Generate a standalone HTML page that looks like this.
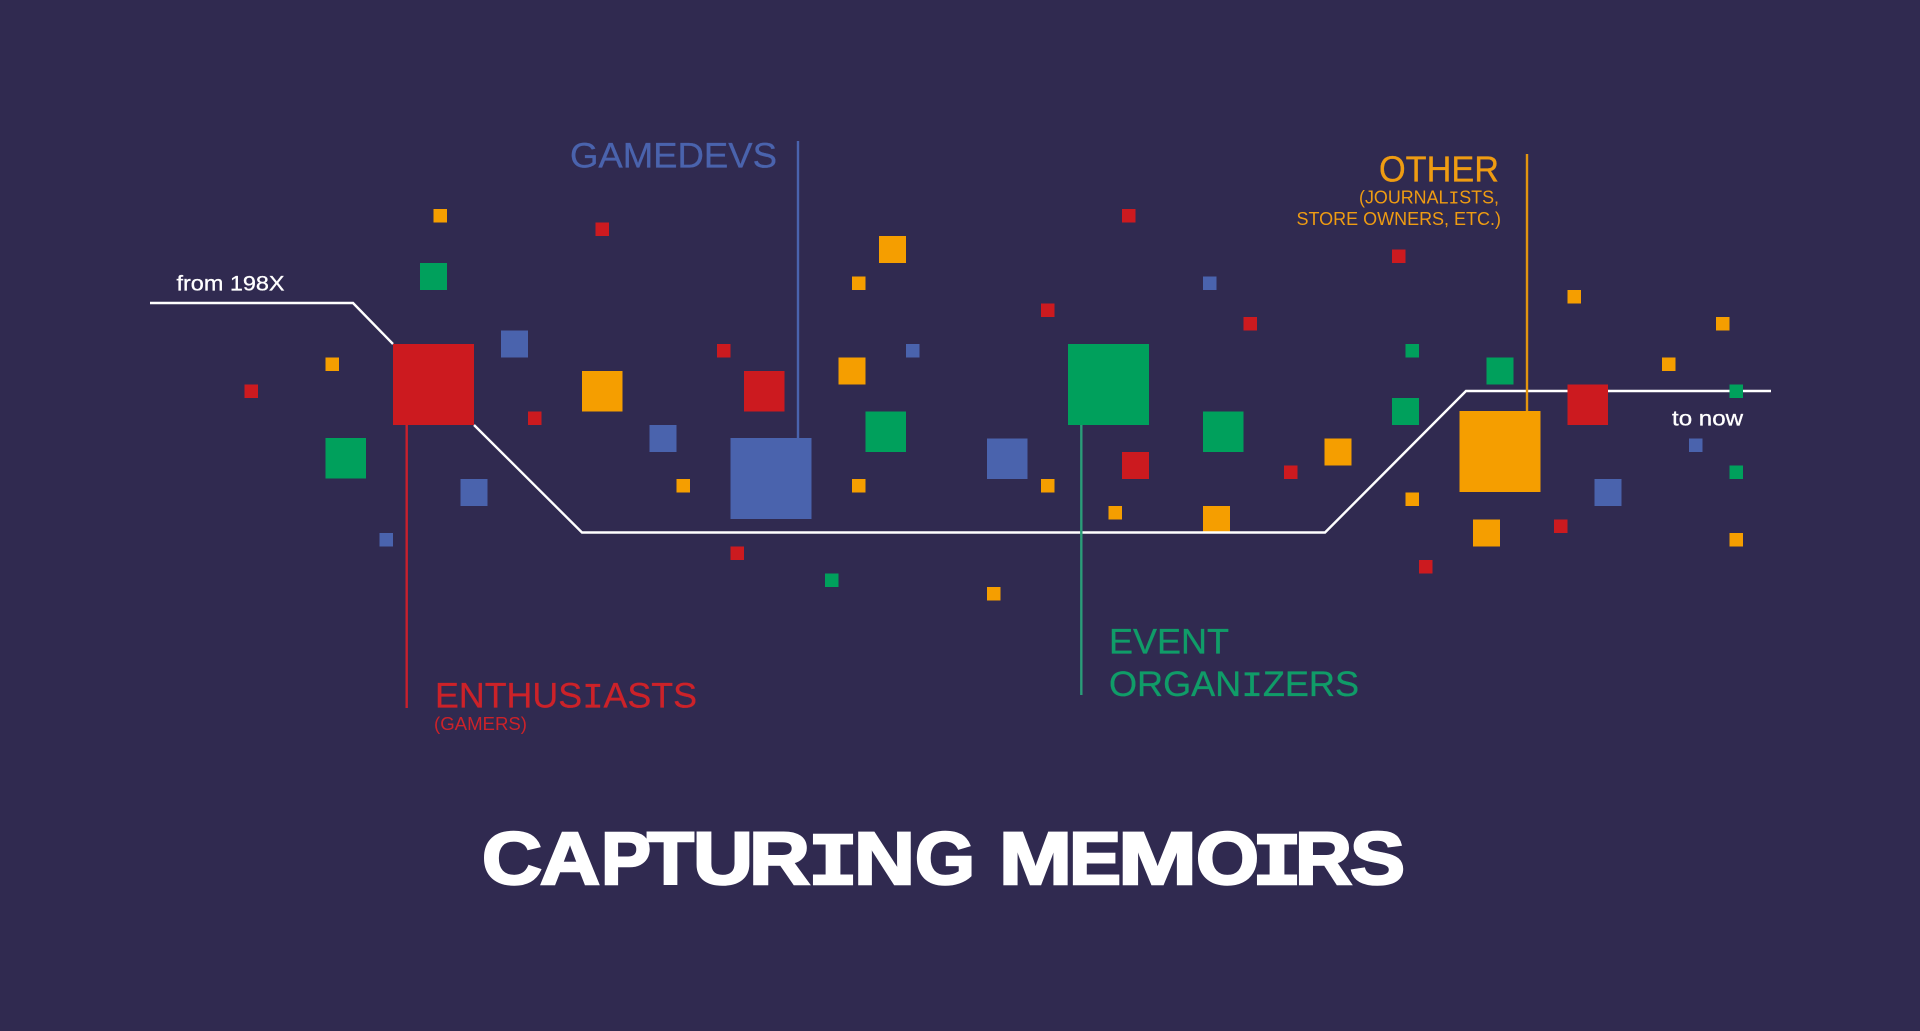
<!DOCTYPE html>
<html>
<head>
<meta charset="utf-8">
<style>
html,body{margin:0;padding:0;background:#302a50;width:1920px;height:1031px;overflow:hidden}
svg{display:block}
text{font-family:"Liberation Sans",sans-serif}
tspan.m{font-family:"Liberation Mono",monospace}
.r{fill:#cc1a1f}.b{fill:#4a63ad}.g{fill:#00a05c}.o{fill:#f59e00}
</style>
</head>
<body>
<svg width="1920" height="1031" viewBox="0 0 1920 1031" xmlns="http://www.w3.org/2000/svg">
<rect width="1920" height="1031" fill="#302a50"/>
<rect class="o" x="1203" y="506" width="27" height="27"/>
<polyline points="150,303 353,303 393,344" fill="none" stroke="#fff" stroke-width="2.4"/>
<polyline points="474,425 582,532.5 1325,532.5 1466,391 1771,391" fill="none" stroke="#fff" stroke-width="2.4"/>

<!-- huge -->
<rect class="r" x="393" y="344" width="81" height="81"/>
<rect class="b" x="730.5" y="438" width="81" height="81"/>
<rect class="g" x="1068" y="344" width="81" height="81"/>
<rect class="o" x="1459.5" y="411" width="81" height="81"/>

<!-- 40 -->
<rect class="g" x="325.5" y="438" width="40.5" height="40.5"/>
<rect class="o" x="582" y="371" width="40.5" height="40.5"/>
<rect class="r" x="744" y="371" width="40.5" height="40.5"/>
<rect class="g" x="865.5" y="411.5" width="40.5" height="40.5"/>
<rect class="b" x="987" y="438.5" width="40.5" height="40.5"/>
<rect class="g" x="1203" y="411.5" width="40.5" height="40.5"/>
<rect class="r" x="1567.5" y="384.5" width="40.5" height="40.5"/>

<!-- 27 -->
<rect class="g" x="420" y="263" width="27" height="27"/>
<rect class="b" x="501" y="330.5" width="27" height="27"/>
<rect class="b" x="649.5" y="425" width="27" height="27"/>
<rect class="b" x="460.5" y="479" width="27" height="27"/>
<rect class="o" x="879" y="236" width="27" height="27"/>
<rect class="o" x="838.5" y="357.5" width="27" height="27"/>
<rect class="r" x="1122" y="452" width="27" height="27"/>
<rect class="g" x="1486.5" y="357.5" width="27" height="27"/>
<rect class="g" x="1392" y="398" width="27" height="27"/>
<rect class="o" x="1324.5" y="438.5" width="27" height="27"/>
<rect class="b" x="1594.5" y="479" width="27" height="27"/>
<rect class="o" x="1473" y="519.5" width="27" height="27"/>

<!-- small -->
<rect class="o" x="433.5" y="209" width="13.5" height="13.5"/>
<rect class="r" x="595.5" y="222.5" width="13.5" height="13.5"/>
<rect class="o" x="325.5" y="357.5" width="13.5" height="13.5"/>
<rect class="r" x="244.5" y="384.5" width="13.5" height="13.5"/>
<rect class="r" x="528" y="411.5" width="13.5" height="13.5"/>
<rect class="o" x="676.5" y="479" width="13.5" height="13.5"/>
<rect class="b" x="379.5" y="533" width="13.5" height="13.5"/>
<rect class="r" x="717" y="344" width="13.5" height="13.5"/>
<rect class="o" x="852" y="276.5" width="13.5" height="13.5"/>
<rect class="r" x="1122" y="209" width="13.5" height="13.5"/>
<rect class="b" x="1203" y="276.5" width="13.5" height="13.5"/>
<rect class="r" x="1041" y="303.5" width="13.5" height="13.5"/>
<rect class="r" x="1243.5" y="317" width="13.5" height="13.5"/>
<rect class="b" x="906" y="344" width="13.5" height="13.5"/>
<rect class="o" x="852" y="479" width="13.5" height="13.5"/>
<rect class="o" x="1041" y="479" width="13.5" height="13.5"/>
<rect class="r" x="1284" y="465.5" width="13.5" height="13.5"/>
<rect class="o" x="1108.5" y="506" width="13.5" height="13.5"/>
<rect class="r" x="730.5" y="546.5" width="13.5" height="13.5"/>
<rect class="g" x="825" y="573.5" width="13.5" height="13.5"/>
<rect class="o" x="987" y="587" width="13.5" height="13.5"/>
<rect class="r" x="1392" y="249.5" width="13.5" height="13.5"/>
<rect class="o" x="1567.5" y="290" width="13.5" height="13.5"/>
<rect class="o" x="1716" y="317" width="13.5" height="13.5"/>
<rect class="o" x="1662" y="357.5" width="13.5" height="13.5"/>
<rect class="g" x="1405.5" y="344" width="13.5" height="13.5"/>
<rect class="g" x="1729.5" y="384.5" width="13.5" height="13.5"/>
<rect class="b" x="1689" y="438.5" width="13.5" height="13.5"/>
<rect class="g" x="1729.5" y="465.5" width="13.5" height="13.5"/>
<rect class="o" x="1405.5" y="492.5" width="13.5" height="13.5"/>
<rect class="r" x="1554" y="519.5" width="13.5" height="13.5"/>
<rect class="r" x="1419" y="560" width="13.5" height="13.5"/>
<rect class="o" x="1729.5" y="533" width="13.5" height="13.5"/>

<!-- callout lines -->
<line x1="406.7" y1="425" x2="406.7" y2="708" stroke="#c8202c" stroke-width="2.4"/>
<line x1="798" y1="141" x2="798" y2="438" stroke="#4a63ad" stroke-width="2.4"/>
<line x1="1081.3" y1="425" x2="1081.3" y2="695" stroke="#2a9d78" stroke-width="2.4"/>
<line x1="1527" y1="154" x2="1527" y2="411" stroke="#e3950f" stroke-width="2.4"/>

<!-- labels -->
<text x="176.5" y="290.5" font-size="21" fill="#fff" stroke="#fff" stroke-width=".3" textLength="108" lengthAdjust="spacingAndGlyphs">from 198X</text>
<text x="1672" y="425.5" font-size="21" fill="#fff" stroke="#fff" stroke-width=".3" textLength="71" lengthAdjust="spacingAndGlyphs">to now</text>

<text x="570" y="167.5" font-size="35.5" fill="#4a63ad" stroke="#4a63ad" stroke-width=".3" textLength="207" lengthAdjust="spacingAndGlyphs">GAMEDEVS</text>
<text x="1379" y="181.5" font-size="36" fill="#ef9c12" stroke="#ef9c12" stroke-width=".3" textLength="120" lengthAdjust="spacingAndGlyphs">OTHER</text>
<text x="1359" y="203.5" font-size="18.5" fill="#ef9c12" textLength="140" lengthAdjust="spacingAndGlyphs">(JOURNAL<tspan class="m">I</tspan>STS,</text>
<text x="1296.5" y="225" font-size="18.5" fill="#ef9c12" textLength="204.5" lengthAdjust="spacingAndGlyphs">STORE OWNERS, ETC.)</text>
<text x="435" y="707.5" font-size="35" fill="#cc2229" stroke="#cc2229" stroke-width=".3" textLength="262" lengthAdjust="spacingAndGlyphs">ENTHUS<tspan class="m">I</tspan>ASTS</text>
<text x="434" y="730" font-size="18" fill="#cc2229" textLength="93" lengthAdjust="spacingAndGlyphs">(GAMERS)</text>
<text x="1109" y="653.5" font-size="35.5" fill="#109c68" stroke="#109c68" stroke-width=".3" textLength="120" lengthAdjust="spacingAndGlyphs">EVENT</text>
<text x="1109" y="696" font-size="35.5" fill="#109c68" stroke="#109c68" stroke-width=".3" textLength="250" lengthAdjust="spacingAndGlyphs">ORGAN<tspan class="m">I</tspan>ZERS</text>

<g fill="#fff" stroke="#fff" stroke-width="2.5" font-weight="700" font-size="74">
<text x="482" y="884" textLength="60" lengthAdjust="spacingAndGlyphs">C</text>
<text x="540" y="884" textLength="60" lengthAdjust="spacingAndGlyphs">A</text>
<text x="601" y="884" textLength="50" lengthAdjust="spacingAndGlyphs">P</text>
<text x="647" y="884" textLength="47" lengthAdjust="spacingAndGlyphs">T</text>
<text x="693" y="884" textLength="60" lengthAdjust="spacingAndGlyphs">U</text>
<text x="749" y="884" textLength="61" lengthAdjust="spacingAndGlyphs">R</text>
<text x="808" y="884" textLength="50" lengthAdjust="spacingAndGlyphs" style="font-family:'Liberation Mono',monospace">I</text>
<text x="854" y="884" textLength="61" lengthAdjust="spacingAndGlyphs">N</text>
<text x="915" y="884" textLength="60" lengthAdjust="spacingAndGlyphs">G</text>
<text x="999" y="884" textLength="73" lengthAdjust="spacingAndGlyphs">M</text>
<text x="1069" y="884" textLength="52" lengthAdjust="spacingAndGlyphs">E</text>
<text x="1118" y="884" textLength="79" lengthAdjust="spacingAndGlyphs">M</text>
<text x="1196" y="884" textLength="63" lengthAdjust="spacingAndGlyphs">O</text>
<text x="1252" y="884" textLength="50" lengthAdjust="spacingAndGlyphs" style="font-family:'Liberation Mono',monospace">I</text>
<text x="1295" y="884" textLength="57" lengthAdjust="spacingAndGlyphs">R</text>
<text x="1350" y="884" textLength="55" lengthAdjust="spacingAndGlyphs">S</text>
</g>
</svg>
</body>
</html>
